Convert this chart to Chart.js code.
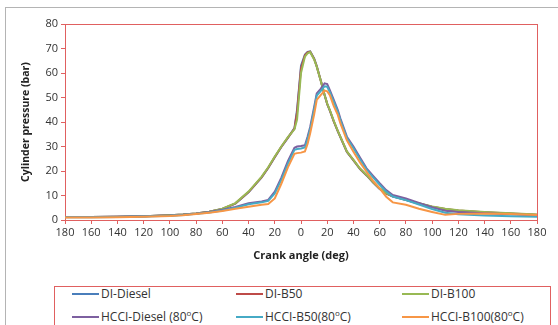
<!DOCTYPE html>
<html>
<head>
<meta charset="utf-8">
<script src="https://cdn.jsdelivr.net/npm/chart.js@4.4.1/dist/chart.umd.min.js"></script>
<style>
  body { margin: 0; background: #fff; width: 558px; height: 325px; overflow: hidden; position: relative; font-family: 'Open Sans', sans-serif; }
  #frame { position: absolute; left: 5px; top: 7px; width: 600px; height: 400px; border-left: 1px solid #b4b4b4; border-top: 1px solid #b4b4b4; }
  #miGrafico { position: absolute; left: 0; top: 0; }
  #leyenda { position: absolute; left: 54px; top: 286px; width: 497px; height: 60px; border: 1px solid #e06060; box-sizing: border-box; }
  .item { position: absolute; font-size: 12px; color: #333; white-space: nowrap; line-height: 14px; }
  .item i { display: inline-block; width: 27px; height: 2px; vertical-align: middle; margin-right: 2px; position: relative; top: -1px; }
  .item sup { font-size: 8px; }
</style>
</head>
<body>
<div id="frame"></div>
<canvas id="miGrafico" width="558" height="285"></canvas>
<div id="leyenda"></div>
<script>
// crank angle (deg)
angulos = [-180, -160, -140, -120, -100, -90, -80, -70, -60, -50, -40, -30, -25, -20, -15, -10, -5, -3, 0, 3, 5, 7, 10, 12, 15, 18, 20, 22, 25, 28, 30, 35, 40, 45, 50, 55, 60, 65, 70, 80, 90, 100, 110, 120, 140, 160, 180];

// cylinder pressure (bar)
diDiesel = [1.2, 1.2, 1.3, 1.5, 1.9, 2.2, 2.7, 3.4, 4.5, 6.7, 11.3, 17.4, 21.2, 25.6, 29.8, 33.5, 37.5, 45, 63, 67.5, 68.6, 68.8, 66, 62.8, 57, 51, 47.3, 44.6, 40.2, 36.3, 33.8, 27.8, 24.3, 20.8, 18.2, 15.3, 12.7, 10.8, 9.6, 8.1, 6.6, 5.3, 4.4, 3.8, 3.1, 2.6, 2.0];
diB50 = [1.2, 1.2, 1.3, 1.5, 1.9, 2.2, 2.7, 3.4, 4.5, 6.8, 11.4, 17.5, 21.3, 25.7, 29.9, 33.6, 37.3, 44, 62, 67.2, 68.4, 68.7, 65.8, 62.7, 57, 51, 47.4, 44.7, 40.3, 36.4, 33.9, 27.9, 24.4, 20.9, 18.3, 15.4, 12.8, 10.9, 9.7, 8.2, 6.7, 5.4, 4.5, 3.9, 3.2, 2.7, 2.1];
diB100 = [1.2, 1.2, 1.3, 1.5, 1.9, 2.2, 2.7, 3.4, 4.6, 6.9, 11.6, 17.7, 21.5, 25.9, 30, 33.8, 37, 41, 60, 66.7, 68, 68.5, 65.5, 62.6, 57, 51, 47.5, 44.9, 40.5, 36.5, 34, 28, 24.5, 21, 18.4, 15.5, 12.9, 11, 9.8, 8.3, 6.8, 5.5, 4.6, 4.0, 3.3, 2.8, 2.2];
hcciDiesel = [1.2, 1.2, 1.3, 1.5, 1.8, 2.1, 2.6, 3.3, 4.2, 5.3, 6.8, 7.6, 8.2, 11.6, 17.3, 24, 29.5, 30, 30.2, 30.5, 34, 38, 46, 51.7, 53.5, 55.8, 55.5, 53, 49, 45, 41.5, 34, 30, 25.5, 21.1, 18, 15, 12.2, 10.2, 8.8, 7, 5.2, 3.8, 3.3, 2.8, 2.3, 1.8];
hcciB50 = [1.1, 1.1, 1.2, 1.4, 1.7, 2.0, 2.5, 3.1, 3.9, 5.0, 6.4, 7.2, 7.8, 10.8, 16.4, 23, 28.6, 29, 29.2, 29.6, 33, 37, 45, 50.8, 52.6, 54.6, 54.4, 52.2, 48.2, 44.3, 40.8, 33.4, 29.3, 24.8, 20.6, 17.4, 14.4, 11.6, 9.6, 8.1, 6.3, 4.5, 3.0, 2.3, 1.8, 1.5, 1.3];
hcciB100 = [1.0, 1.0, 1.1, 1.3, 1.6, 1.9, 2.4, 3.0, 3.7, 4.6, 5.4, 6.2, 6.5, 8.8, 14.8, 21.5, 27, 27.3, 27.5, 28, 31, 35.4, 43, 49, 51, 52.8, 52.5, 51, 46.5, 43, 39.5, 32.5, 27.9, 23.5, 19.7, 16, 12.9, 9.5, 7.2, 6.2, 4.6, 3.3, 2.1, 2.5, 2.7, 2.4, 2.0];

series = [
    { nombre: 'DI-Diesel', datos: diDiesel, color: '#4a7ebb' },
    { nombre: 'DI-B50', datos: diB50, color: '#be4b48' },
    { nombre: 'DI-B100', datos: diB100, color: '#98b954' },
    { nombre: 'HCCI-Diesel (80<sup>o</sup>C)', datos: hcciDiesel, color: '#7d60a0' },
    { nombre: 'HCCI-B50(80<sup>o</sup>C)', datos: hcciB50, color: '#46aac5' },
    { nombre: 'HCCI-B100(80<sup>o</sup>C)', datos: hcciB100, color: '#f79646' }
];

const rojo = '#e06060';
Chart.defaults.font.family = "'Open Sans', sans-serif";
Chart.defaults.color = '#333';

// red frame round the plot area
const marco = {
    id: 'marco',
    beforeDatasetsDraw(chart) {
        const a = chart.chartArea;
        const ctx = chart.ctx;
        ctx.save();
        ctx.strokeStyle = rojo;
        ctx.lineWidth = 1;
        ctx.strokeRect(Math.round(a.left) + 0.5, Math.round(a.top) + 0.5, Math.round(a.right - a.left), Math.round(a.bottom - a.top));
        ctx.restore();
    }
};

var ctx = document.getElementById('miGrafico').getContext('2d');
var myChart = new Chart(ctx, {
    type: 'line',
    data: {
        datasets: series.map((s, i) => ({
            label: s.nombre,
            data: angulos.map((a, j) => ({ x: a, y: s.datos[j] })),
            borderColor: s.color,
            backgroundColor: s.color,
            borderWidth: 2,
            pointRadius: 0,
            tension: 0,
            order: series.length - i
        }))
    },
    options: {
        responsive: false,
        animation: false,
        layout: { padding: { left: 20, right: 21, top: 24, bottom: 23 } },
        plugins: {
            legend: { display: false },
            tooltip: { enabled: false }
        },
        scales: {
            x: {
                type: 'linear',
                min: -180,
                max: 180,
                ticks: {
                    stepSize: 20,
                    autoSkip: false,
                    maxRotation: 0,
                    padding: 2,
                    font: { size: 11 },
                    callback: (v) => Math.abs(v)
                },
                grid: { drawOnChartArea: false, color: rojo, tickLength: 4 },
                border: { color: rojo },
                title: { display: true, text: 'Crank angle (deg)', font: { size: 11, weight: 'bold' }, color: '#222', padding: 0 },
                afterFit: (scale) => { scale.height = 42; }
            },
            y: {
                min: 0,
                max: 80,
                ticks: { stepSize: 10, padding: 3, font: { size: 11 } },
                grid: { drawOnChartArea: false, color: rojo, tickLength: 4 },
                border: { color: rojo },
                title: { display: true, text: 'Cylinder pressure (bar)', font: { size: 10.5, weight: 'bold' }, color: '#222', padding: 0 },
                afterFit: (scale) => { scale.width = 45; }
            }
        }
    },
    plugins: [marco]
});

// legend in three columns
const leyenda = document.getElementById('leyenda');
const columnas = [17, 181, 347];
const filas = [0, 19];
series.forEach((s, i) => {
    const d = document.createElement('div');
    d.className = 'item';
    d.style.left = columnas[i % 3] + 'px';
    d.style.top = filas[Math.floor(i / 3)] + 'px';
    d.innerHTML = '<i style="background:' + s.color + '"></i>' + s.nombre;
    leyenda.appendChild(d);
});
</script>
</body>
</html>
